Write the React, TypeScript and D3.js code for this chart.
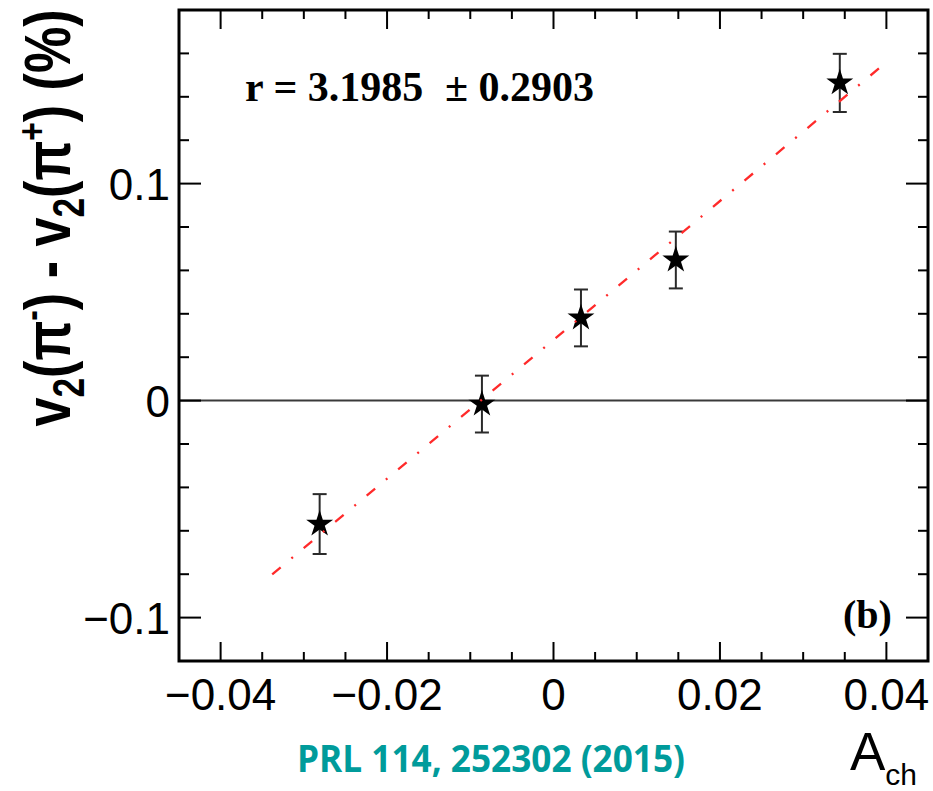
import React from "react";
import * as d3 from "d3";

// Charge asymmetry bins and the measured pion v2 splitting (in %)
const achValues = [-0.0281, -0.0086, 0.0033, 0.0147, 0.0344];
const dv2Values = [-0.0569, -0.0016, 0.0381, 0.0648, 0.1464];
const dv2Errors = [0.0138, 0.0131, 0.0131, 0.0131, 0.0134];

// Linear fit: slope r and its intercept, drawn over the fit range
const fitSlope = 3.1985;
const fitSlopeErr = 0.2903;
const fitIntercept = 0.028;
const fitRange = [-0.0338, 0.0402];

const xMajorTicks = [-0.04, -0.02, 0, 0.02, 0.04];
const xMinorTicks = d3.range(-0.045, 0.0451, 0.005);
const yMajorTicks = [-0.1, 0, 0.1];
const yMinorTicks = d3.range(-0.12, 0.1801, 0.02);

const W = 933;
const H = 791;
const frame = { left: 179, right: 928, top: 10, bottom: 661 };

const fmt = (v: number) => {
  if (Math.abs(v) < 1e-9) return "0";
  const s = d3.format(".2~f")(Math.abs(v));
  return (v < 0 ? "\u2212" : "") + s;
};

export default function App() {
  const x = d3.scaleLinear().domain([-0.045, 0.045]).range([frame.left, frame.right]);
  const y = d3.scaleLinear().domain([-0.12, 0.18]).range([frame.bottom, frame.top]);

  const star = d3.symbol().type(d3.symbolStar).size(225)();
  const fitLine = d3
    .line<number>()
    .x((d) => x(d))
    .y((d) => y(fitSlope * d + fitIntercept));

  const sans = "'Liberation Sans', Arial, Helvetica, sans-serif";
  const serif = "'Liberation Serif', 'Times New Roman', serif";

  const isMajorX = (v: number) => xMajorTicks.some((m) => Math.abs(m - v) < 1e-9);
  const isMajorY = (v: number) => yMajorTicks.some((m) => Math.abs(m - v) < 1e-9);

  return (
    <svg
      width={W}
      height={H}
      viewBox={`0 0 ${W} ${H}`}
      style={{ position: "absolute", left: 0, top: 0, background: "#fff" }}
    >
      <rect x={0} y={0} width={W} height={H} fill="#fff" />

      {/* zero reference line */}
      <line x1={frame.left} x2={frame.right} y1={y(0)} y2={y(0)} stroke="#3a3a3a" strokeWidth={2} />

      {/* x ticks, bottom and top */}
      {xMinorTicks.map((v, i) => {
        const len = isMajorX(v) ? 19 : 9;
        const px = x(v);
        if (px <= frame.left + 1 || px >= frame.right - 1) return null;
        return (
          <g key={"xt" + i} stroke="#000" strokeWidth={2}>
            <line x1={px} x2={px} y1={frame.bottom} y2={frame.bottom - len} />
            <line x1={px} x2={px} y1={frame.top} y2={frame.top + len} />
          </g>
        );
      })}
      {/* y ticks, left and right */}
      {yMinorTicks.map((v, i) => {
        const len = isMajorY(v) ? 22 : 10;
        const py = y(v);
        if (py <= frame.top + 1 || py >= frame.bottom - 1) return null;
        return (
          <g key={"yt" + i} stroke="#000" strokeWidth={2}>
            <line x1={frame.left} x2={frame.left + len} y1={py} y2={py} />
            <line x1={frame.right} x2={frame.right - len} y1={py} y2={py} />
          </g>
        );
      })}

      {/* tick labels */}
      {xMajorTicks.map((v, i) => (
        <text key={"xl" + i} x={x(v)} y={710} textAnchor="middle" fontFamily={sans} fontSize={44} fill="#000">
          {fmt(v)}
        </text>
      ))}
      {yMajorTicks.map((v, i) => (
        <text key={"yl" + i} x={170} y={y(v) + 16} textAnchor="end" fontFamily={sans} fontSize={44} fill="#000">
          {fmt(v)}
        </text>
      ))}

      {/* error bars and markers */}
      {achValues.map((a, i) => {
        const cx = x(a);
        const top = y(dv2Values[i] + dv2Errors[i]);
        const bot = y(dv2Values[i] - dv2Errors[i]);
        return (
          <g key={"pt" + i}>
            <g stroke="#2a2a2a" strokeWidth={2}>
              <line x1={cx} x2={cx} y1={top} y2={bot} />
              <line x1={cx - 7} x2={cx + 7} y1={top} y2={top} />
              <line x1={cx - 7} x2={cx + 7} y1={bot} y2={bot} />
            </g>
            <path d={star || ""} transform={`translate(${cx},${y(dv2Values[i])})`} fill="#000" />
          </g>
        );
      })}

      {/* fit line */}
      <path
        d={fitLine(fitRange) || ""}
        fill="none"
        stroke="#ff2a2a"
        strokeWidth={2.3}
        strokeDasharray="11,14,2,14"
      />

      {/* frame */}
      <rect
        x={frame.left}
        y={frame.top}
        width={frame.right - frame.left}
        height={frame.bottom - frame.top}
        fill="none"
        stroke="#000"
        strokeWidth={3}
      />

      {/* fit result */}
      <text x={245} y={101} fontFamily={serif} fontWeight="bold" fontSize={42} fill="#000">
        {`r = ${fitSlope.toFixed(4)}`}
      </text>
      <text x={445} y={101} fontFamily={serif} fontWeight="bold" fontSize={42} fill="#000">
        {`\u00B1 ${fitSlopeErr.toFixed(4)}`}
      </text>

      {/* panel label */}
      <text x={843} y={628} fontFamily={serif} fontWeight="bold" fontSize={40} fill="#000">
        (b)
      </text>

      {/* y axis title */}
      <text
        transform="translate(70,218) rotate(-90) scale(0.93,1.15)"
        textAnchor="middle"
        fontFamily={sans}
        fontWeight="bold"
        fontSize={56}
        fill="#000"
      >
        v<tspan fontSize={38} dy={12}>2</tspan>
        <tspan dy={-12}>(π</tspan>
        <tspan fontSize={34} dy={-22}>-</tspan>
        <tspan dy={22}>) - v</tspan>
        <tspan fontSize={38} dy={12}>2</tspan>
        <tspan dy={-12}>(π</tspan>
        <tspan fontSize={34} dy={-22}>+</tspan>
        <tspan dy={22}>)  (%)</tspan>
      </text>

      {/* x axis title */}
      <text x={850} y={770} fontFamily={sans} fontSize={53} fill="#000">
        A<tspan fontSize={30} dy={15}>ch</tspan>
      </text>

      {/* reference */}
      <text
        x={297}
        y={772}
        fontFamily="'Open Sans', Lato, sans-serif"
        fontWeight="bold"
        fontSize={37}
        fill="#009b9b"
        textLength={388}
        lengthAdjust="spacingAndGlyphs"
      >
        PRL 114, 252302 (2015)
      </text>
    </svg>
  );
}
